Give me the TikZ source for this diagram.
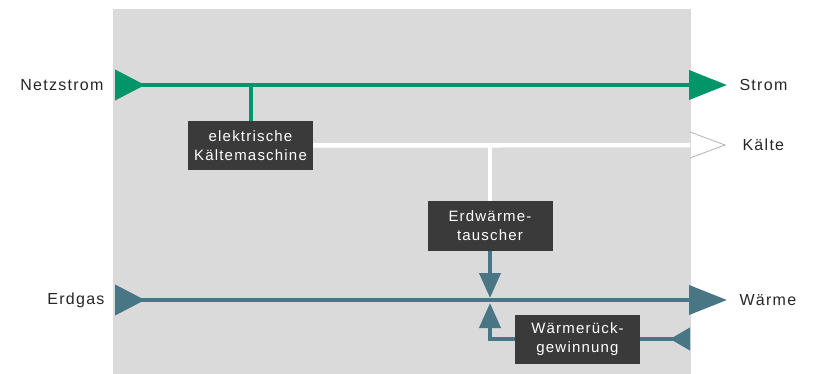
\documentclass[tikz,border=0pt]{standalone}
\usepackage{fontspec}
\setmainfont{Liberation Sans}[LetterSpace=8]
\usepackage{tikz}
\usetikzlibrary{arrows.meta}
\usepackage{xcolor}
\definecolor{stromgruen}{RGB}{0,150,105}
\definecolor{gasblau}{RGB}{72,118,132}
\definecolor{feld}{RGB}{218,218,218}
\definecolor{kasten}{RGB}{58,58,58}
\tikzset{
  strom/.style={line width=4pt, stromgruen},
  gas/.style={line width=4pt, gasblau},
  kalt/.style={line width=4.5pt, white},
  durch/.style={{Triangle[reversed,length=30pt,width=30pt]}-{Triangle[length=38pt,width=29pt]}},
  rein/.style={{Triangle[reversed,length=20pt,width=22pt]}-},
  pfeil/.style={-{Triangle[length=25pt,width=21pt]}},
  box/.style={fill=kasten, text=white, minimum width=125pt, minimum height=49pt,
    inner sep=1pt, align=center, font=\fontsize{15}{19}\selectfont},
  lbl/.style={font=\fontsize{16}{18}\selectfont, text=black!85},
}

\begin{document}
\begin{tikzpicture}[x=1pt, y=-1pt]
  \useasboundingbox (0,0) rectangle (816,374);
  \fill[feld] (113,9) rectangle (691,374);

  % Ein- und Ausgaenge
  \node[lbl, anchor=east] (netz) at (107,85) {Netzstrom};
  \node[lbl, anchor=west] (strom) at (736,85) {Strom};
  \node[lbl, anchor=west] (kaelte) at (739,145) {Kälte};
  \node[lbl, anchor=east] (erdgas) at (108,300) {Erdgas};
  \node[lbl, anchor=west] (waerme) at (736,300) {Wärme};
  \coordinate (netzA) at (115,85);
  \coordinate (netzB) at (727,85);
  \coordinate (kaltB) at (690,145);
  \coordinate (gasA) at (115,300);
  \coordinate (gasB) at (727,300);
  \coordinate (rueckA) at (690,339);

  % Anlagen
  \node[box] (kaeltemaschine) at (250.5,145.5) {elektrische\\Kältemaschine};
  \node[box] (erdwaerme) at (490,226) {Erdwärme-\\tauscher};
  \node[box] (rueck) at (577.5,339) {Wärmerück-\\gewinnung};

  % Strom
  \draw[strom, durch] (netzA) -- (netzB);
  \draw[strom] (kaeltemaschine.north) -- (kaeltemaschine.north |- netzA);

  % Kaelte
  \draw[kalt] (kaeltemaschine.east) -- (kaltB);
  \draw[kalt] (erdwaerme.north) -- (erdwaerme.north |- kaeltemaschine.east);
  \draw[black!30, line width=0.8pt] (kaltB) ++(0,-13) -- ++(35,13) -- ++(-35,13);

  % Waerme
  \draw[gas, durch] (gasA) -- (gasB);
  \draw[gas, pfeil] (erdwaerme.south) -- ([yshift=2pt]erdwaerme.south |- gasA);
  \draw[gas, pfeil] (rueck.west) -| ([yshift=-3pt]erdwaerme.south |- gasA);
  \draw[gas, rein] (rueckA) -- (rueck.east);
\end{tikzpicture}
\end{document}
